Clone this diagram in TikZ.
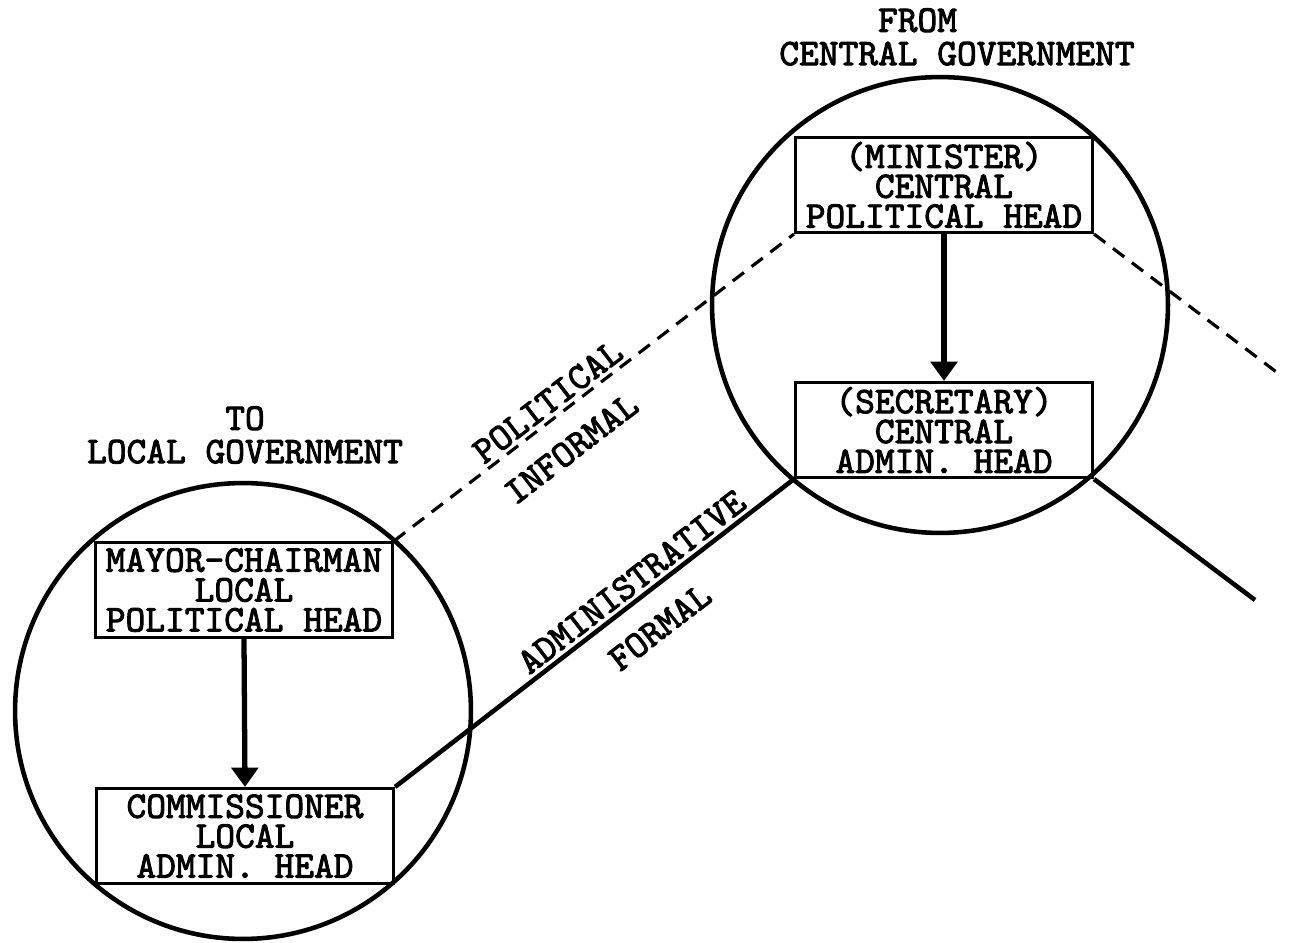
\documentclass[tikz,border=0pt]{standalone}
\usepackage{fontspec}
\newfontfamily\typewriter{lmmono10-regular.otf}[FakeBold=2.5]
\usepackage{tikz}
\usetikzlibrary{arrows.meta}

\begin{document}
\begin{tikzpicture}[x=0.02cm, y=-0.02cm, >={Triangle[width=15pt,length=11pt]},
  every node/.style={font=\typewriter\bfseries\fontsize{21.4}{17}\selectfont},
  office/.style={draw, line width=1.8pt, minimum width=5.94cm,
    minimum height=1.9cm, inner sep=1pt, align=center},
  ring/.style={draw, circle, line width=2.6pt, minimum size=9.12cm, inner sep=0pt},
  heading/.style={align=left, font=\typewriter\bfseries\fontsize{21.4}{19}\selectfont},
  command/.style={->, line width=3pt},
  informal/.style={line width=1.8pt, dash pattern=on 8pt off 5.5pt},
  formal/.style={line width=2.6pt},
  abovelabel/.style={sloped, above, inner sep=2pt},
  belowlabel/.style={sloped, below, inner ysep=12pt}]
  \useasboundingbox (0,0) rectangle (1293,942);
  \node[ring] (localring) at (243,711) {};
  \node[ring] (centralring) at (940,305) {};
  \node[heading] (from) at (957,37) {\hphantom{CENTR}FROM\\CENTRAL GOVERNMENT};
  \node[heading] (to) at (245,435) {\hphantom{LOCAL G}TO\\LOCAL GOVERNMENT};
  \node[office] (mayor) at (244,590) {MAYOR-CHAIRMAN\\LOCAL\\POLITICAL HEAD};
  \node[office] (commissioner) at (245,836) {COMMISSIONER\\LOCAL\\ADMIN. HEAD};
  \node[office] (minister) at (944,185) {(MINISTER)\\CENTRAL\\POLITICAL HEAD};
  \node[office] (secretary) at (944,430) {(SECRETARY)\\CENTRAL\\ADMIN. HEAD};
  \coordinate (politicalend) at (1283,377);
  \coordinate (adminend) at (1255,600);
  \draw[command] (mayor.south) -- (commissioner.north);
  \draw[command] (minister.south) -- (secretary.north);
  \draw[informal] (mayor.north east) --
    node[abovelabel, pos=0.41] {POLITICAL}
    node[belowlabel, pos=0.39] {INFORMAL} (minister.south west);
  \draw[formal] (commissioner.north east) --
    node[abovelabel, pos=0.62] {ADMINISTRATIVE}
    node[belowlabel, pos=0.61] {FORMAL} (secretary.south west);
  \draw[informal] (minister.south east) -- (politicalend);
  \draw[formal] (secretary.south east) -- (adminend);
\end{tikzpicture}
\end{document}
